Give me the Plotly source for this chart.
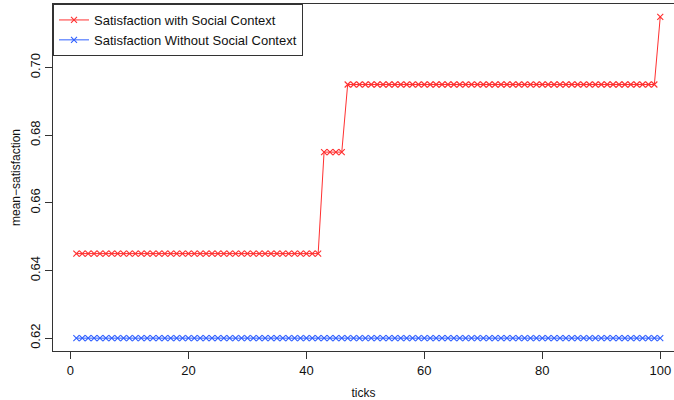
import plotly.graph_objects as go

ticks = list(range(1, 101))
with_social = [0.645] * 42 + [0.675] * 4 + [0.695] * 53 + [0.715]
without_social = [0.62] * 100

x_tickvals = [0, 20, 40, 60, 80, 100]
y_tickvals = [0.62, 0.64, 0.66, 0.68, 0.70]
y_ticktext = ["0.62", "0.64", "0.66", "0.68", "0.70"]

fig = go.Figure()
fig.add_trace(go.Scatter(
    x=ticks, y=with_social, mode="lines+markers",
    name="Satisfaction with Social Context",
    line=dict(color="#ff3030", width=1),
    marker=dict(symbol="x-thin", size=6, line=dict(color="#ff3030", width=1.1)),
))
fig.add_trace(go.Scatter(
    x=ticks, y=without_social, mode="lines+markers",
    name="Satisfaction Without Social Context",
    line=dict(color="#3060ff", width=1),
    marker=dict(symbol="x-thin", size=6, line=dict(color="#3060ff", width=1.1)),
))

axis_common = dict(
    showline=True, linecolor="#333", linewidth=1,
    showgrid=False, zeroline=False, ticks="outside", ticklen=7,
    tickcolor="#333", tickfont=dict(size=13, color="#111"), automargin=False,
)
fig.update_xaxes(range=[-2.96, 102.33], tickvals=x_tickvals, mirror=True,
                 title=dict(text="ticks", font=dict(size=12, color="#111"), standoff=14),
                 **axis_common)
fig.update_yaxes(range=[0.6162, 0.7188], tickvals=y_tickvals, ticktext=y_ticktext,
                 tickangle=-90, mirror=False,
                 title=dict(text="mean\u2212satisfaction", font=dict(size=12, color="#111"), standoff=4),
                 **axis_common)

fig.update_layout(
    width=674, height=400,
    margin=dict(l=53, r=0, t=4, b=49),
    paper_bgcolor="white", plot_bgcolor="white",
    font=dict(family="Liberation Sans, Arial, sans-serif", color="#111"),
    legend=dict(x=0, y=1, xanchor="left", yanchor="top",
                bordercolor="#333", borderwidth=1, bgcolor="white",
                font=dict(size=13), tracegroupgap=0, itemwidth=30),
    showlegend=True,
)

fig.write_html(
    "out.html",
    config={"displayModeBar": False},
    post_script="document.body.style.margin='0';document.body.style.overflow='hidden';"
                "document.documentElement.style.overflow='hidden';",
)
